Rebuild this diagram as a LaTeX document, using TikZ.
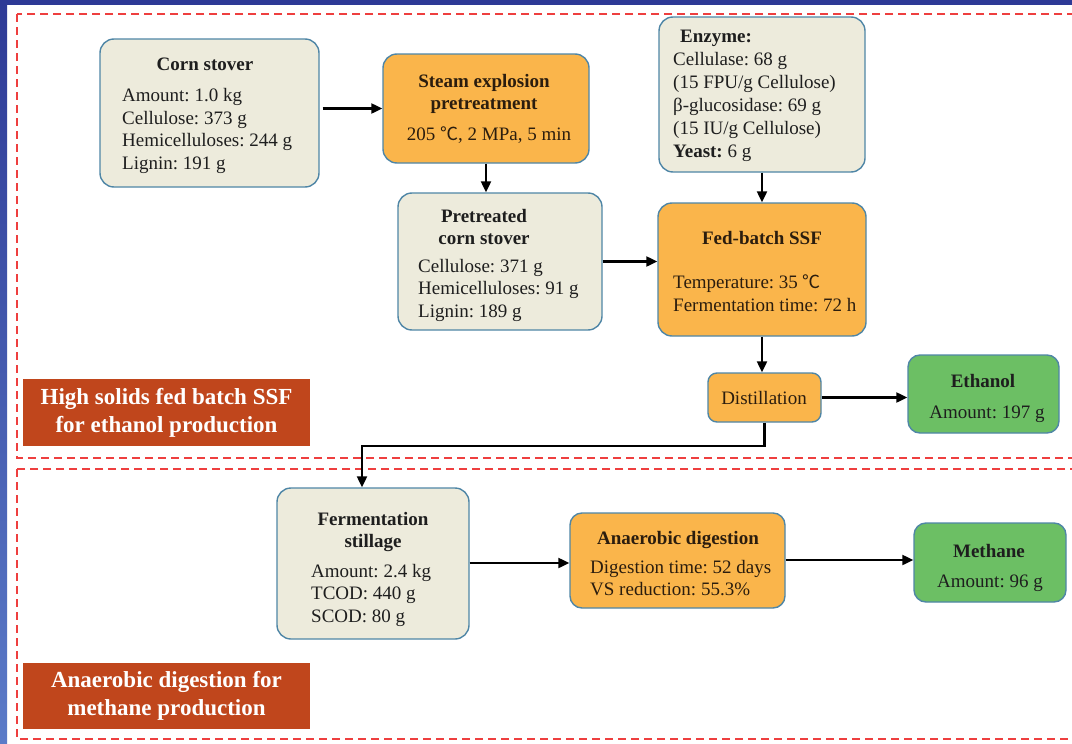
\documentclass[tikz,border=0pt]{standalone}
\usepackage{fontspec}
\setmainfont{Liberation Serif}
\newfontfamily\cjk{Noto Sans CJK SC}[Scale=0.95]
\usetikzlibrary{arrows.meta,calc}
\definecolor{beige}{HTML}{EDEBDC}
\definecolor{orangebox}{HTML}{FAB54B}
\definecolor{greenbox}{HTML}{6CBF64}
\definecolor{labelred}{HTML}{C0461C}
\definecolor{bordc}{HTML}{4F86A6}
\definecolor{dashred}{HTML}{EE3F3F}
\definecolor{navy}{HTML}{2E3A96}
\definecolor{lightnavy}{HTML}{5B7BC8}
\definecolor{txtc}{HTML}{1E1E1E}
\definecolor{brownt}{HTML}{2B1D0E}
\tikzset{
  box/.style={draw=bordc, line width=1.4pt, rounded corners=14pt, inner sep=0pt},
  beigebox/.style={box, fill=beige},
  orangeb/.style={box, fill=orangebox},
  greenb/.style={box, fill=greenbox, rounded corners=12pt},
  labelbox/.style={fill=labelred, inner sep=0pt},
  txt/.style={inner sep=0pt, font=\fontsize{19}{22.5}\selectfont, text=txtc},
  otxt/.style={txt, text=brownt},
  labeltxt/.style={inner sep=0pt, align=center, text=white, font=\fontsize{23}{28}\selectfont\bfseries},
  arr/.style={line width=2.2pt, draw=black, -{Triangle[length=11pt,width=10pt]}},
  zone/.style={draw=dashred, line width=1.6pt, dash pattern=on 8pt off 5pt}
}
\begin{document}
\frenchspacing
\begin{tikzpicture}[x=1pt,y=-1pt]
\useasboundingbox (0,0) rectangle (1072,744);
\clip (0,0) rectangle (1072,744);
\fill[white] (0,0) rectangle (1072,744);
\fill[navy] (0,0) rectangle (1072,5);
\shade[top color=navy, bottom color=lightnavy] (0,0) rectangle (7,744);

% zones
\draw[zone] (17,14) rectangle (1090,458);
\draw[zone] (17,469) rectangle (1090,739);

% labels
\node[labelbox, minimum width=287pt, minimum height=67pt] (lab1) at (166.5,412.5) {};
\node[labeltxt] (lab1t) at (166.5,412.5) {High solids fed batch SSF\\for ethanol production};
\node[labelbox, minimum width=287pt, minimum height=66pt] (lab2) at (166.5,696) {};
\node[labeltxt] (lab2t) at (166.5,696) {Anaerobic digestion for\\methane production};

% boxes
\node[beigebox, minimum width=219pt, minimum height=148pt] (cs) at (209.5,113) {};
\node[orangeb, minimum width=206pt, minimum height=109pt] (steam) at (486,108.5) {};
\node[beigebox, minimum width=204pt, minimum height=137pt] (pre) at (500,261.5) {};
\node[beigebox, minimum width=206pt, minimum height=155pt] (enz) at (762,94.5) {};
\node[orangeb, minimum width=208pt, minimum height=133pt] (fed) at (762,269.5) {};
\node[orangeb, rounded corners=9pt, minimum width=113pt, minimum height=49pt] (dist) at (764.5,397.5) {};
\node[greenb, minimum width=151pt, minimum height=78pt] (eth) at (983.5,394) {};
\node[beigebox, minimum width=192pt, minimum height=151pt] (ferm) at (373,563.5) {};
\node[orangeb, rounded corners=12pt, minimum width=215pt, minimum height=95pt] (ad) at (677.5,560.5) {};
\node[greenb, minimum width=152pt, minimum height=79pt] (meth) at (990,562.5) {};

% texts
\node[txt] (cst) at (205,64) {\textbf{Corn stover}};
\node[txt, align=left, anchor=west] (csb) at (122,131) {Amount: 1.0 kg\\Cellulose: 373 g\\Hemicelluloses: 244 g\\Lignin: 191 g};

\node[otxt, align=center] (steamt) at (484,94) {\textbf{Steam explosion}\\\textbf{pretreatment}};
\node[otxt] (steamb) at (489,135) {205 {\cjk ℃}, 2 MPa, 5 min};

\node[txt, align=center] (pret) at (484,227) {\textbf{Pretreated}\\\textbf{corn stover}};
\node[txt, align=left, anchor=west] (preb) at (418,290) {Cellulose: 371 g\\Hemicelluloses: 91 g\\Lignin: 189 g};

\node[txt, align=left, anchor=west, font=\fontsize{19}{23}\selectfont] (enzb) at (673,96) {\hspace*{7pt}\textbf{Enzyme:}\\Cellulase: 68 g\\(15 FPU/g Cellulose)\\β-glucosidase: 69 g\\(15 IU/g Cellulose)\\\textbf{Yeast:} 6 g};

\node[otxt] (fedt) at (762,238) {\textbf{Fed-batch SSF}};
\node[otxt, align=left, anchor=west] (fedb) at (673,293) {Temperature: 35 {\cjk ℃}\\Fermentation time: 72 h};

\node[otxt] (distt) at (764,398) {Distillation};

\node[txt] (etht) at (983,381) {\textbf{Ethanol}};
\node[txt] (ethb) at (987,414) {Amount: 197 g};

\node[txt, align=center] (fermt) at (373,532) {\textbf{Fermentation}\\\textbf{stillage}};
\node[txt, align=left, anchor=west] (fermb) at (311,595) {Amount: 2.4 kg\\TCOD: 440 g\\SCOD: 80 g};

\node[otxt] (adt) at (678,540) {\textbf{Anaerobic digestion}};
\node[otxt, align=left, anchor=west] (adb) at (590,578) {Digestion time: 52 days\\VS reduction: 55.3\%};

\node[txt] (metht) at (989,551) {\textbf{Methane}};
\node[txt] (methb) at (990,583) {Amount: 96 g};

% arrows
\draw[arr, shorten <=3pt] (cs.east |- steam.west) -- (steam.west);
\draw[arr] (steam.south) -- (steam.south |- pre.north);
\draw[arr] (pre.east) -- (pre.east -| fed.west);
\draw[arr] (enz.south) -- (fed.north);
\draw[arr] (fed.south) -- (fed.south |- dist.north);
\draw[arr] (dist.east) -- (dist.east -| eth.west);
\coordinate (bend) at (764.5,446);
\draw[arr] (dist.south) -- (bend) -| ([xshift=-11pt]ferm.north);
\draw[arr] (ferm.east |- 0,563) -- (ad.west |- 0,563);
\draw[arr] (ad.east |- 0,560) -- (meth.west |- 0,560);
\end{tikzpicture}
\end{document}
